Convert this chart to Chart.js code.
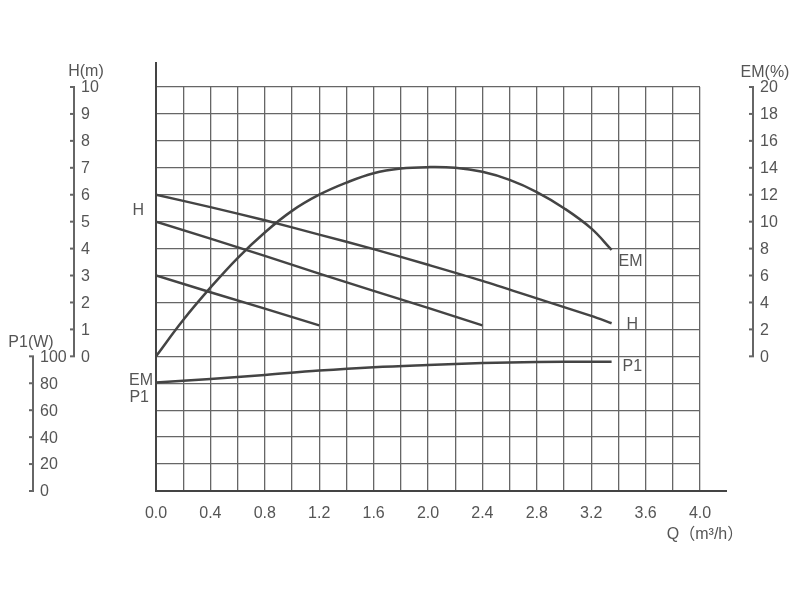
<!DOCTYPE html>
<html>
<head>
<meta charset="utf-8">
<script src="https://cdn.jsdelivr.net/npm/chart.js@4"></script>
<style>
html,body{margin:0;padding:0;background:#fff;}
#wrap{width:800px;height:600px;}
</style>
</head>
<body>
<div id="wrap"><canvas id="c" width="800" height="600"></canvas></div>
<script>
// ---- data ----
const qTickLabels = ['0.0','0.4','0.8','1.2','1.6','2.0','2.4','2.8','3.2','3.6','4.0'];
const hTicks  = [0,1,2,3,4,5,6,7,8,9,10];
const p1Ticks = [0,20,40,60,80,100];
const emTicks = [0,2,4,6,8,10,12,14,16,18,20];

const qH1 = [0,0.4,0.8,1.2,1.6,2.0,2.4,2.8,3.2,3.35];
const hCurve1 = [6.0,5.54,5.05,4.52,3.98,3.40,2.80,2.15,1.50,1.23];
const qH2 = [0,0.4,0.8,1.2,1.6,2.0,2.4];
const hCurve2 = [5.0,4.37,3.73,3.07,2.43,1.80,1.15];
const qH3 = [0,0.4,0.8,1.2];
const hCurve3 = [3.0,2.38,1.77,1.15];

const qEM = [0,0.2,0.4,0.6,0.8,1.0,1.2,1.4,1.6,1.8,2.0,2.2,2.4,2.6,2.8,3.0,3.2,3.35];
const emValues = [0,2.7,5.1,7.3,9.2,10.8,12.0,12.9,13.6,13.95,14.05,14.0,13.7,13.1,12.2,11.0,9.5,7.9];

const qP1 = [0,0.4,0.8,1.2,1.6,2.0,2.4,2.8,3.2,3.35];
const p1Values = [80.5,83.2,86.2,89.4,91.9,93.6,95.0,95.8,96.0,96.0];

const pts = (xs, ys) => xs.map((x, i) => ({x: x, y: ys[i]}));

const TEXT = '#555';
const LINE = '#444';
const GRID = '#666';
const FONT = '"Liberation Sans", Arial, "Noto Sans CJK SC", sans-serif';
const FSIZE = 16;

const axesPlugin = {
  id: 'axesPlugin',
  afterDraw(chart) {
    const ctx = chart.ctx;
    const xs = chart.scales.x, y = chart.scales.y, yEM = chart.scales.yEM, yP1 = chart.scales.yP1;
    const ca = chart.chartArea;
    ctx.save();
    // main axis lines (left extended upward, bottom extended right)
    ctx.strokeStyle = LINE; ctx.lineWidth = 2;
    ctx.beginPath();
    ctx.moveTo(ca.left, ca.top - 25); ctx.lineTo(ca.left, ca.bottom);
    ctx.lineTo(ca.right + 27, ca.bottom);
    ctx.stroke();

    function sideAxis(scale, values, xBar, title, tx, ty) {
      const top = scale.getPixelForValue(values[values.length - 1]);
      const bot = scale.getPixelForValue(values[0]);
      ctx.strokeStyle = '#666'; ctx.lineWidth = 2;
      ctx.beginPath(); ctx.moveTo(xBar, top); ctx.lineTo(xBar, bot); ctx.stroke();
      ctx.fillStyle = TEXT; ctx.font = FSIZE + 'px ' + FONT;
      ctx.textAlign = 'left'; ctx.textBaseline = 'middle';
      values.forEach(v => {
        const py = scale.getPixelForValue(v);
        ctx.beginPath(); ctx.moveTo(xBar - 4, py); ctx.lineTo(xBar + 1, py); ctx.stroke();
        ctx.fillText(String(v), xBar + 7, py + 1);
      });
      ctx.textAlign = 'center';
      ctx.fillText(title, tx, ty);
    }
    sideAxis(y, hTicks, 74, 'H(m)', 86, 72);
    sideAxis(yP1, p1Ticks, 33, 'P1(W)', 31, 343);
    sideAxis(yEM, emTicks, 753, 'EM(%)', 765, 73);

    // x axis title
    ctx.fillStyle = TEXT; ctx.font = FSIZE + 'px ' + FONT;
    ctx.textAlign = 'center'; ctx.textBaseline = 'middle';
    ctx.fillText('Q（m³/h）', ca.right + 5, 535);

    // curve labels
    const x0 = xs.getPixelForValue(0);
    ctx.textAlign = 'right';
    ctx.fillText('H', x0 - 12, y.getPixelForValue(5.4));
    ctx.fillText('EM', x0 - 3, y.getPixelForValue(-0.9));
    ctx.fillText('P1', x0 - 7, y.getPixelForValue(-1.52));
    ctx.textAlign = 'left';
    const xe = xs.getPixelForValue(3.35);
    ctx.fillText('EM', xe + 7, yEM.getPixelForValue(emValues[emValues.length - 1]) + 12);
    ctx.fillText('H', xe + 15, y.getPixelForValue(hCurve1[hCurve1.length - 1]) + 1);
    ctx.fillText('P1', xe + 11, yP1.getPixelForValue(p1Values[p1Values.length - 1]) + 5);
    ctx.restore();
  }
};

const lineDs = (data, axis, tension) => ({
  data: data, yAxisID: axis, borderColor: LINE, borderWidth: 2.5,
  pointRadius: 0, fill: false, tension: tension
});

new Chart(document.getElementById('c'), {
  type: 'line',
  data: {
    datasets: [
      lineDs(pts(qH1, hCurve1), 'y', 0.3),
      lineDs(pts(qH2, hCurve2), 'y', 0),
      lineDs(pts(qH3, hCurve3), 'y', 0),
      lineDs(pts(qEM, emValues), 'yEM', 0.4),
      lineDs(pts(qP1, p1Values), 'yP1', 0.4)
    ]
  },
  options: {
    responsive: false, animation: false,
    layout: { padding: { top: 87, right: 100, left: 0, bottom: 0 } },
    plugins: { legend: { display: false }, tooltip: { enabled: false } },
    scales: {
      x: {
        type: 'linear', min: 0, max: 4,
        grid: { color: GRID, lineWidth: 1.3, drawTicks: false },
        border: { display: false },
        ticks: {
          stepSize: 0.2, padding: 13, color: TEXT, maxRotation: 0, autoSkip: false,
          font: { size: FSIZE, family: FONT },
          callback: (v) => {
            const k = Math.round(v * 10);
            return (k % 4 === 0) ? qTickLabels[k / 4] : '';
          }
        },
        afterFit: (s) => { s.height = 109; }
      },
      y: {
        type: 'linear', position: 'left', min: -5, max: 10,
        grid: { color: GRID, lineWidth: 1.3, drawTicks: false },
        border: { display: false },
        ticks: { display: false, stepSize: 1 },
        afterFit: (s) => { s.width = 156; }
      },
      yEM: { type: 'linear', display: false, min: -10, max: 20 },
      yP1: { type: 'linear', display: false, min: 0, max: 300 }
    }
  },
  plugins: [axesPlugin]
});
</script>
</body>
</html>
